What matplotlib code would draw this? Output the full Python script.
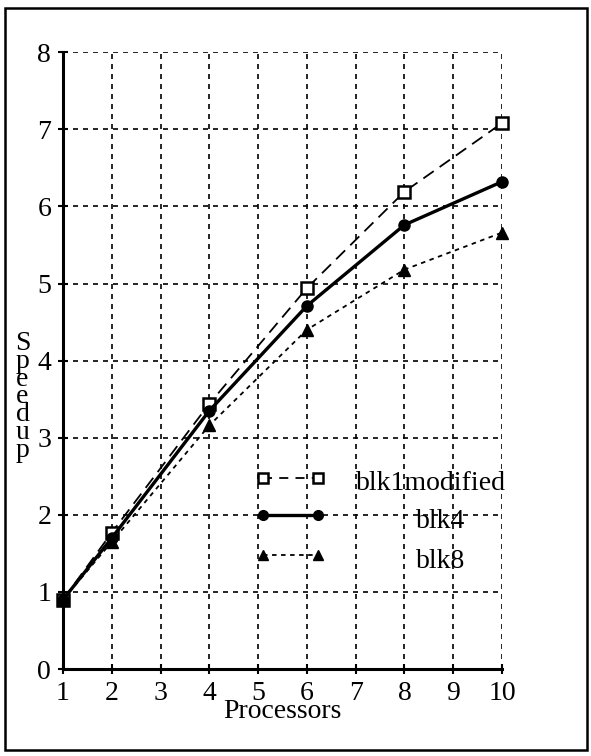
import matplotlib.pyplot as plt
from matplotlib.patches import Rectangle

processors = [1, 2, 4, 6, 8, 10]
blk1modified = [0.9, 1.77, 3.44, 4.94, 6.19, 7.08]
blk4 = [0.9, 1.70, 3.35, 4.71, 5.76, 6.32]
blk8 = [0.9, 1.65, 3.16, 4.40, 5.18, 5.66]

x_ticks = list(range(1, 11))
y_ticks = list(range(0, 9))

plt.rcParams['font.family'] = ['Liberation Serif', 'DejaVu Serif']

fig = plt.figure(figsize=(5.91, 7.56), dpi=100)
ax = fig.add_axes([0.1066, 0.115, 0.7428, 0.816])

ax.plot(processors, blk1modified, color='black', lw=1.3, ls=(0, (7, 4)),
        marker='s', ms=8, mfc='white', mec='black', mew=1.8, clip_on=False)
ax.plot(processors, blk4, color='black', lw=2.4, ls='-',
        marker='o', ms=8, mfc='black', mec='black', clip_on=False)
ax.plot(processors, blk8, color='black', lw=1.3, ls=(0, (2.5, 2.5)),
        marker='^', ms=8, mfc='black', mec='black', clip_on=False)

ax.set_xlim(1, 10)
ax.set_ylim(0, 8)
ax.set_xticks(x_ticks)
ax.set_yticks(y_ticks)
ax.tick_params(direction='inout', length=7, width=1.5, labelsize=20, pad=5)
ax.grid(True, color='black', ls=(0, (3, 3)), lw=1.2)
for side in ['top', 'right']:
    ax.spines[side].set_visible(False)
for side in ['left', 'bottom']:
    ax.spines[side].set_linewidth(2.2)

ax.set_xlabel('Processors', fontsize=20, labelpad=-5)
fig.text(0.038, 0.475, '\n'.join('Speedup'), fontsize=20, ha='center', va='center',
         linespacing=0.62)

# legend drawn by hand to keep the staggered labels
legend_rows = [
    ('blk1modified', 0.310, 0.667, dict(ls=(0, (5, 4)), lw=1.3, marker='s', mfc='white', mew=1.8)),
    ('blk4', 0.250, 0.804, dict(ls='-', lw=2.4, marker='o', mfc='black')),
    ('blk8', 0.185, 0.804, dict(ls=(0, (2.5, 2.5)), lw=1.3, marker='^', mfc='black')),
]
for label, yy, xt, style in legend_rows:
    ax.plot([0.456, 0.581], [yy, yy], transform=ax.transAxes, color='black',
            ms=7, mec='black', **style)
    ax.text(xt, yy - 0.010, label, transform=ax.transAxes, fontsize=20,
            ha='left', va='center')

fig.patches.append(Rectangle((0.009, 0.008), 0.985, 0.981, transform=fig.transFigure,
                             fill=False, lw=1.8, ec='black'))

fig.savefig('out.png', dpi=100)
